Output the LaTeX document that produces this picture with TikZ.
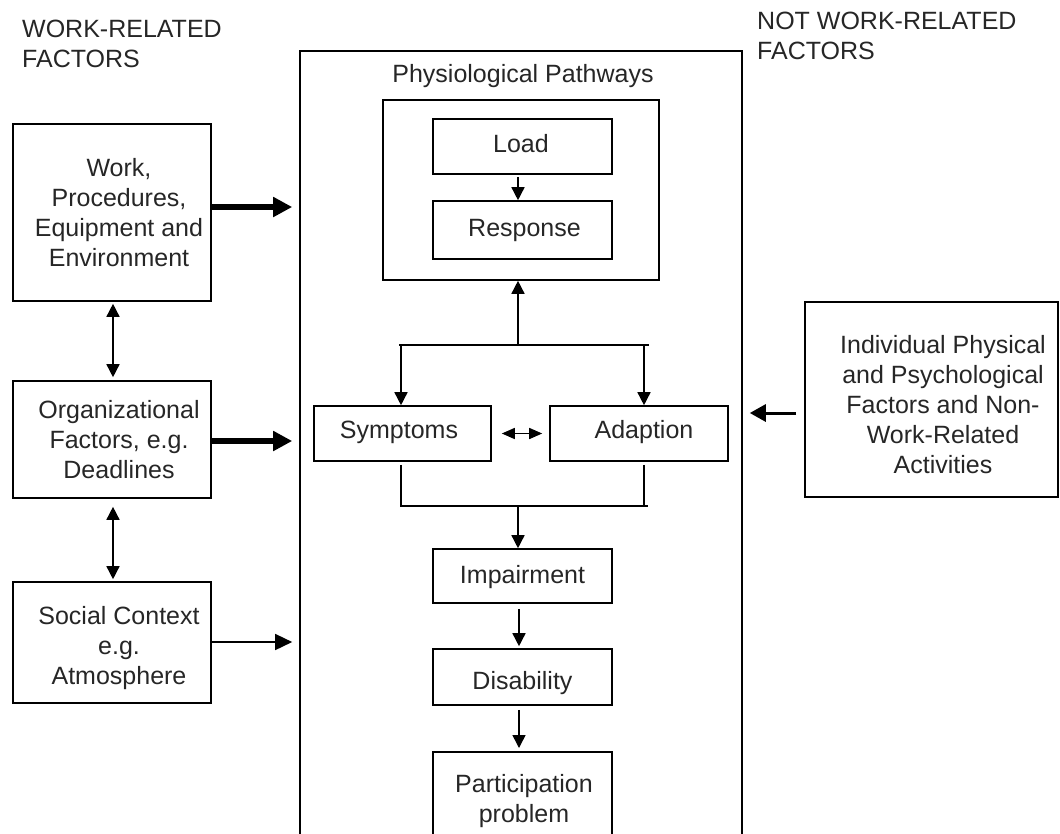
\documentclass[tikz,border=0pt]{standalone}
\usepackage{fontspec}
\setmainfont{Liberation Sans}
\usetikzlibrary{arrows.meta}
\begin{document}
\begin{tikzpicture}[x=1pt,y=-1pt,
  box/.style={draw, line width=1.6pt, rectangle, inner sep=0pt},
  txt/.style={align=center, font=\fontsize{25}{30}\selectfont, inner sep=0pt, text=black!85},
  hdr/.style={align=left, font=\fontsize{25}{30}\selectfont, inner sep=0pt, anchor=north west, text=black!85},
  ln/.style={line width=1.5pt},
  arr/.style={line width=1.5pt, -{Triangle[length=13pt,width=13pt]}},
  darr/.style={line width=1.5pt, {Triangle[length=13pt,width=13pt]}-{Triangle[length=13pt,width=13pt]}},
  harr/.style={line width=1.5pt, {Triangle[length=13pt,width=11pt]}-{Triangle[length=13pt,width=11pt]}},
  sarr/.style={line width=1.5pt, -{Triangle[length=17pt,width=16pt]}},
  marr/.style={line width=3pt, -{Triangle[length=16pt,width=17pt]}},
  fat/.style={line width=6pt, -{Triangle[length=19pt,width=19pt]}}
]
\clip (0,0) rectangle (1060,833);

% headers
\node[hdr] (hl) at (22,20) {WORK-RELATED\\FACTORS};
\node[hdr] (hr) at (757,12) {NOT WORK-RELATED\\FACTORS};

% left boxes
\node[box, minimum width=198pt, minimum height=177pt] (work) at (112,212.5) {};
\node[txt] (workt) at (119,212.5) {Work,\\Procedures,\\Equipment and\\Environment};
\node[box, minimum width=198pt, minimum height=117pt] (org) at (112,439.5) {};
\node[txt] (orgt) at (119,440) {Organizational\\Factors, e.g.\\Deadlines};
\node[box, minimum width=198pt, minimum height=121pt] (soc) at (112,642.5) {};
\node[txt] (soct) at (119,648) {Social Context\\e.g.\\Atmosphere};

% big box
\node[box, minimum width=442pt, minimum height=900pt, anchor=north] (big) at (521,50) {};
\node[txt, anchor=base] (bigt) at (523,82) {Physiological Pathways};

% inner box
\node[box, minimum width=276pt, minimum height=180pt] (inner) at (521,190) {};
\node[box, minimum width=179pt, minimum height=55pt] (load) at (522.5,146.5) {};
\node[txt, anchor=base] (loadt) at (521,152) {Load};
\node[box, minimum width=179pt, minimum height=58pt] (resp) at (522.5,230) {};
\node[txt, anchor=base] (respt) at (524.5,236) {Response};

% symptoms / adaption
\node[box, minimum width=177pt, minimum height=55pt] (sym) at (402.5,433.5) {};
\node[txt, anchor=base] (symt) at (399,438) {Symptoms};
\node[box, minimum width=178pt, minimum height=55pt] (adap) at (639,433.5) {};
\node[txt, anchor=base] (adapt) at (644,438) {Adaption};

% chain
\node[box, minimum width=179pt, minimum height=54pt] (imp) at (522.5,576) {};
\node[txt, anchor=base] (impt) at (522.5,583) {Impairment};
\node[box, minimum width=179pt, minimum height=56pt] (dis) at (522.5,677) {};
\node[txt, anchor=base] (dist) at (522.5,689) {Disability};
\node[box, minimum width=179pt, minimum height=110pt, anchor=north] (part) at (522.5,751) {};
\node[txt] (partt) at (524,800.6) {Participation\\problem};

% right box
\node[box, minimum width=253pt, minimum height=195pt] (rt) at (931.5,399.5) {};
\node[txt] (rtt) at (943,405) {Individual Physical\\and Psychological\\Factors and Non-\\Work-Related\\Activities};

% coordinates
\coordinate (bl) at (399,345);
\coordinate (br) at (649,345);
\coordinate (bm) at (518,345);
\coordinate (sa) at (401,345);
\coordinate (aa) at (644,345);
\coordinate (ll) at (400,506);
\coordinate (lr) at (648,506);
\coordinate (lm) at (518,506);
\coordinate (sb) at (401,506);
\coordinate (ab) at (644,506);

% connectors inside
\draw[arr, shorten <=2pt] (load.south -| 518,0) -- (resp.north -| 518,0);
\draw[ln] (bl) -- (br);
\draw[arr] (bm) -- (bm |- inner.south);
\draw[arr] (sa) -- (sa |- sym.north);
\draw[arr] (aa) -- (aa |- adap.north);
\draw[harr, shorten <=10pt, shorten >=7pt] (sym.east) -- (adap.west);
\draw[ln, shorten <=3pt] (sa |- sym.south) -- (sb);
\draw[ln, shorten <=3pt] (aa |- adap.south) -- (ab);
\draw[ln] (ll) -- (lr);
\draw[arr] (lm) -- (lm |- imp.north);
\draw[arr, shorten <=5pt, shorten >=2pt] (imp.south -| 519,0) -- (dis.north -| 519,0);
\draw[arr, shorten <=4pt, shorten >=3pt] (dis.south -| 519,0) -- (part.north -| 519,0);

% left connectors
\draw[fat, shorten >=7pt] (work.east |- 0,207) -- (big.west |- 0,207);
\draw[fat, shorten >=7pt] (org.east |- 0,441) -- (big.west |- 0,441);
\draw[sarr, shorten >=7pt] (soc.east |- 0,642) -- (big.west |- 0,642);
\draw[darr, shorten <=2pt, shorten >=3pt] (work.south -| 113,0) -- (org.north -| 113,0);
\draw[darr, shorten <=8pt, shorten >=2pt] (org.south -| 113,0) -- (soc.north -| 113,0);

% right connector
\draw[marr, shorten <=8pt, shorten >=7pt] (rt.west |- 0,413) -- (big.east |- 0,413);
\end{tikzpicture}
\end{document}
